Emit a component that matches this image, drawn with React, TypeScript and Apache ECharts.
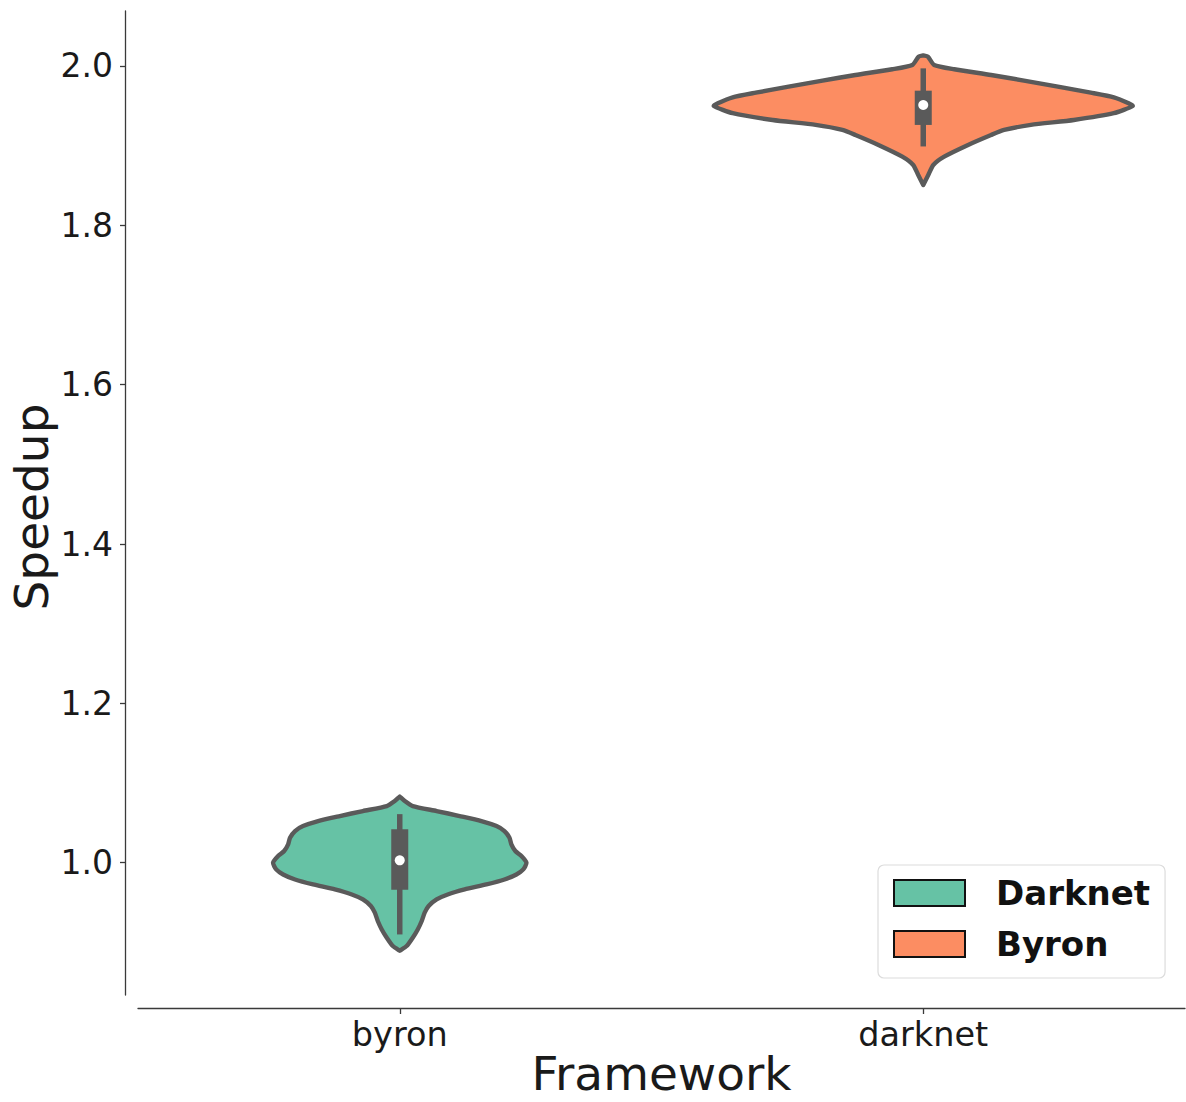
import React, { useEffect, useRef } from 'react';
import * as echarts from 'echarts';

const categories = ['byron', 'darknet'];
const seriesNames = ['Darknet', 'Byron'];
const seriesColors = ['#66c2a5', '#fc8d62'];
const yTicks = [1.0, 1.2, 1.4, 1.6, 1.8, 2.0];
const yMin = 0.834;
const yMax = 2.069;

// violin outline for "byron" (speedup values, top to bottom) and relative density
const byronY = [1.083, 1.0774, 1.0711, 1.0649, 1.0586, 1.0523, 1.046, 1.0398, 1.0314, 1.023, 1.0147, 1.0084, 1.0, 0.9916, 0.9853, 0.979, 0.9728, 0.9665, 0.9602, 0.954, 0.9457, 0.9373, 0.9269, 0.9163, 0.9059, 0.8955, 0.8896];
const byronDensity = [0, 0.024, 0.062, 0.176, 0.286, 0.39, 0.462, 0.5, 0.524, 0.533, 0.552, 0.581, 0.605, 0.59, 0.557, 0.5, 0.414, 0.31, 0.229, 0.176, 0.138, 0.119, 0.105, 0.086, 0.062, 0.033, 0];
// whisker low, q1, median, q3, whisker high
const byronBox = [0.91, 0.966, 1.003, 1.042, 1.061];

const darknetY = [2.0132, 2.0117, 2.0013, 1.9959, 1.9887, 1.9816, 1.974, 1.9665, 1.9607, 1.9532, 1.9498, 1.9407, 1.9322, 1.926, 1.9197, 1.9134, 1.9009, 1.8862, 1.8758, 1.8632, 1.8507];
const darknetDensity = [0, 0.022, 0.052, 0.148, 0.324, 0.481, 0.643, 0.8, 0.91, 0.981, 1.0, 0.91, 0.719, 0.514, 0.386, 0.324, 0.214, 0.1, 0.048, 0.024, 0];
const darknetBox = [1.899, 1.926, 1.951, 1.969, 1.997];

const violinYs = [byronY, darknetY];
const violinDens = [byronDensity, darknetDensity];
const violinBoxes = [byronBox, darknetBox];

const GRAY = '#5a5a5a';
const TEXT = '#1a1a1a';
const AXIS = '#3a3a3a';
const FONT = 'DejaVu Sans';

function makeRenderItem(idx: number) {
  const ys = violinYs[idx];
  const dens = violinDens[idx];
  const box = violinBoxes[idx];
  const color = seriesColors[idx];
  return (params: any, api: any) => {
    const ci = api.value(0);
    const cx = api.coord([ci, box[2]])[0];
    const band = api.size([1, 0])[0];
    const half = band * 0.4;
    const right = ys.map((y, i) => [cx + dens[i] * half, api.coord([ci, y])[1]]);
    const left = ys.map((y, i) => [cx - dens[i] * half, api.coord([ci, y])[1]]).reverse();
    const pts = right.concat(left);
    const yLo = api.coord([ci, box[0]])[1];
    const yQ1 = api.coord([ci, box[1]])[1];
    const yMed = api.coord([ci, box[2]])[1];
    const yQ3 = api.coord([ci, box[3]])[1];
    const yHi = api.coord([ci, box[4]])[1];
    return {
      type: 'group',
      children: [
        {
          type: 'polygon',
          shape: { points: pts, smooth: 0.2 },
          style: { fill: color, stroke: GRAY, lineWidth: 4.4, lineJoin: 'round' },
        },
        {
          type: 'line',
          shape: { x1: cx, y1: yHi, x2: cx, y2: yLo },
          style: { stroke: GRAY, lineWidth: 5.5 },
        },
        {
          type: 'rect',
          shape: { x: cx - 8.5, y: yQ3, width: 17, height: yQ1 - yQ3 },
          style: { fill: GRAY },
        },
        {
          type: 'circle',
          shape: { cx: cx, cy: yMed, r: 5 },
          style: { fill: '#ffffff' },
        },
      ],
    };
  };
}

export default function App() {
  const ref = useRef<HTMLDivElement>(null);
  useEffect(() => {
    if (!ref.current) return;
    const chart = echarts.init(ref.current, null, { renderer: 'svg' });
    chart.setOption({
      animation: false,
      backgroundColor: '#ffffff',
      grid: { left: 138, right: 1, top: 11, bottom: 107, containLabel: false, outerBoundsMode: 'none' },
      xAxis: {
        type: 'category',
        data: categories,
        boundaryGap: true,
        offset: 13,
        name: 'Framework',
        nameLocation: 'middle',
        nameGap: 46,
        nameMoveOverlap: false,
        nameTextStyle: { fontSize: 47, lineHeight: 38, color: TEXT, fontFamily: FONT },
        axisLine: { show: true, lineStyle: { color: AXIS, width: 1.3 } },
        axisTick: { show: true, alignWithLabel: true, length: 6, lineStyle: { color: AXIS, width: 1.3 } },
        axisLabel: { fontSize: 33.5, color: TEXT, fontFamily: FONT, margin: 9 },
        splitLine: { show: false },
      },
      yAxis: {
        type: 'value',
        min: yMin,
        max: yMax,
        offset: 13,
        name: 'Speedup',
        nameLocation: 'middle',
        nameGap: 70,
        nameMoveOverlap: false,
        nameTextStyle: { fontSize: 47, color: TEXT, fontFamily: FONT, padding: [0, 8, 0, 0] },
        axisLine: { show: true, lineStyle: { color: AXIS, width: 1.3 } },
        axisTick: { show: true, length: 5, customValues: yTicks, lineStyle: { color: AXIS, width: 1.3 } },
        axisLabel: {
          fontSize: 33,
          color: TEXT,
          fontFamily: FONT,
          margin: 12,
          customValues: yTicks,
          formatter: (v: number) => v.toFixed(1),
        },
        splitLine: { show: false },
      },
      legend: {
        orient: 'vertical',
        left: 878,
        top: 865,
        padding: [11, 15, 17, 15],
        itemWidth: 71,
        itemHeight: 26,
        itemGap: 17,
        icon: 'rect',
        selectedMode: false,
        backgroundColor: '#ffffff',
        borderColor: '#dcdcdc',
        borderWidth: 1.2,
        borderRadius: 6,
        itemStyle: { borderColor: '#111111', borderWidth: 2 },
        textStyle: {
          fontSize: 34,
          fontWeight: 'bold',
          color: '#111111',
          fontFamily: FONT,
          padding: [0, 0, 0, 26],
        },
        data: seriesNames,
      },
      series: seriesNames.map((name, i) => ({
        type: 'custom',
        name: name,
        coordinateSystem: 'cartesian2d',
        color: seriesColors[i],
        itemStyle: { color: seriesColors[i] },
        encode: { x: 0, y: 1 },
        data: [[i, violinBoxes[i][2]]],
        renderItem: makeRenderItem(i),
        clip: false,
      })),
    });
    return () => chart.dispose();
  }, []);
  return (
    <div
      ref={ref}
      style={{ position: 'absolute', left: 0, top: 0, width: 1186, height: 1102 }}
    />
  );
}
